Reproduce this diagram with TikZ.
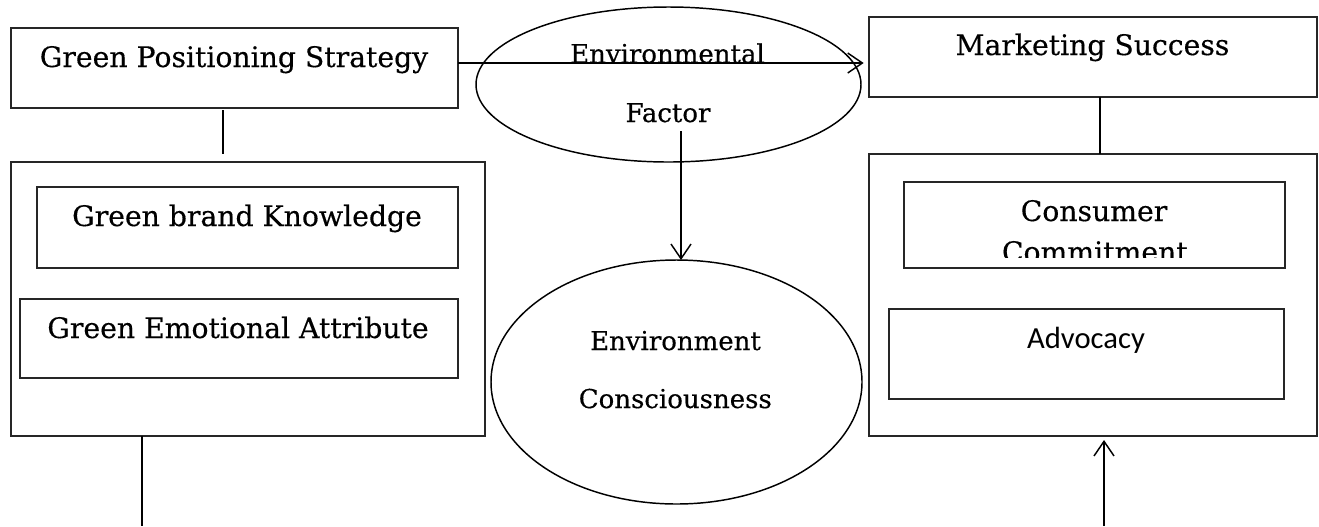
\documentclass[tikz,border=0pt]{standalone}
\usepackage{fontspec}
\setmainfont{DejaVu Serif}[FakeBold=0.4]
\newfontfamily\advfont{Carlito}
\usetikzlibrary{arrows.meta,shapes.geometric}
\begin{document}
\begin{tikzpicture}[x=0.75pt,y=-0.75pt,
  box/.style={draw=black!85,rectangle,inner sep=0pt,outer sep=0pt,line width=1pt},
  oval/.style={draw,ellipse,inner sep=0pt,outer sep=0pt,line width=1.1pt},
  lbl/.style={inner sep=0pt,anchor=base,font=\fontsize{21.2}{25}\selectfont},
  olbl/.style={inner sep=0pt,anchor=base,font=\fontsize{19.5}{23}\selectfont},
  link/.style={line width=1.1pt},
  arr/.style={line width=1.1pt,-{Straight Barb[length=11pt,width=15pt,line width=1.1pt]}}]
\useasboundingbox (0,0) rectangle (1319,526);
% boxes
\node[box,minimum width=335.25pt,minimum height=60pt] (gps) at (234.5,68) {};
\node[box,minimum width=355.5pt,minimum height=205.5pt] (left) at (248,299) {};
\node[box,minimum width=315.75pt,minimum height=60.75pt] (gbk) at (247.5,227.5) {};
\node[box,minimum width=328.5pt,minimum height=59.25pt] (gea) at (239,338.5) {};
\node[box,minimum width=336pt,minimum height=60pt] (ms) at (1093,57) {};
\node[box,minimum width=336pt,minimum height=211.5pt] (right) at (1093,295) {};
\node[box,minimum width=285.75pt,minimum height=64.5pt] (cc) at (1094.5,225) {};
\node[box,minimum width=296.25pt,minimum height=67.5pt] (adv) at (1086.5,354) {};
\node[oval,minimum width=288.75pt,minimum height=116.25pt] (ef) at (668.5,84.5) {};
\node[oval,minimum width=278.25pt,minimum height=183pt] (ec) at (676.5,382) {};
% texts
\node[lbl] (tgps) at (234,67) {Green Positioning Strategy};
\node[lbl] (tgbk) at (247,226) {Green brand Knowledge};
\node[lbl] (tgea) at (238,338) {Green Emotional Attribute};
\node[lbl] (tms) at (1092.5,55) {Marketing Success};
\node[lbl] (tcc1) at (1094,221) {Consumer};
\begin{scope}
\clip (cc.north west) rectangle (cc.east |- 0,257);
\node[lbl] (tcc2) at (1094.8,262) {Commitment};
\end{scope}
\node[inner sep=0pt,anchor=base,font=\advfont\fontsize{23}{27}\selectfont] (tadv) at (1086,348) {Advocacy};
\node[olbl] (tef1) at (667.5,63) {Environmental};
\node[olbl] (tef2) at (668,122) {Factor};
\node[olbl] (tec1) at (675.5,350) {Environment};
\node[olbl] (tec2) at (675.3,408) {Consciousness};
% connectors
\coordinate (c1) at (223,154);
\draw[link] (gps.south -| c1) ++(0,2) -- (c1);
\coordinate (c2) at (1100,0);
\draw[link] (ms.south -| c2) -- (right.north -| c2);
\coordinate (c3) at (0,63);
\draw[arr,shorten >=4pt] (gps.east |- c3) -- (ms.west |- c3);
\coordinate (c4) at (681,131);
\draw[arr] (c4) -- (c4 |- ec.north);
\coordinate (c5) at (142,526);
\draw[link] (left.south -| c5) -- (c5);
\coordinate (c6) at (1104,526);
\draw[arr,shorten >=3pt] (c6) -- (c6 |- right.south);
\end{tikzpicture}
\end{document}
